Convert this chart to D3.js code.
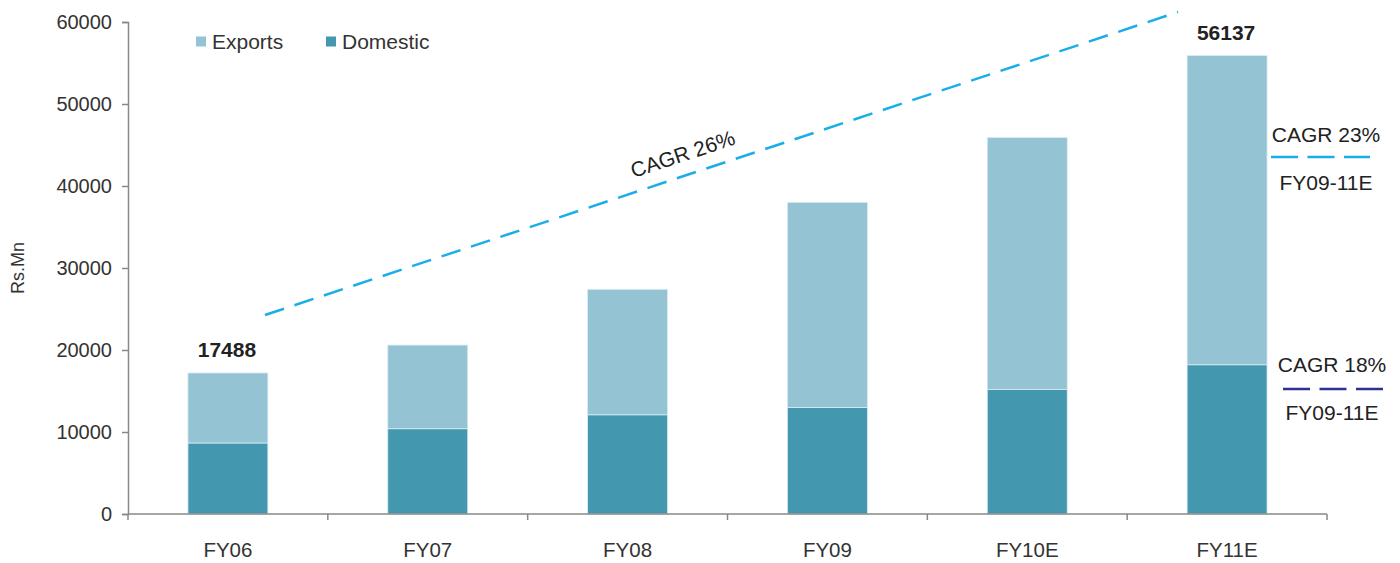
<!DOCTYPE html>
<html><head><meta charset="utf-8">
<script src="https://cdn.jsdelivr.net/npm/d3@7"></script>
<style>body{margin:0;background:#fff}text{font-family:"Liberation Sans",Arial,sans-serif}</style>
</head><body><svg id="c" width="1400" height="563"></svg>
<script>
const categories = ["FY06","FY07","FY08","FY09","FY10E","FY11E"];
const domestic = [8660, 10400, 12100, 13000, 15200, 18200];
const exportsV = [8540, 10200, 15300, 25000, 30700, 37700];
const yTicks = [0,10000,20000,30000,40000,50000,60000];
const totalLabels = [{cat:"FY06", text:"17488"}, {cat:"FY11E", text:"56137"}];

const svg = d3.select("#c");
const m = {l:128, r:1327, t:22, b:514};
const x = d3.scaleBand().domain(categories).range([m.l, m.r]).paddingInner(0.6).paddingOuter(0.3);
const xb = d3.scaleBand().domain(categories).range([m.l, m.r]);
const y = d3.scaleLinear().domain([0,60000]).range([m.b, m.t]);

const data = categories.map((c,i)=>({cat:c, Domestic:domestic[i], Exports:exportsV[i]}));
const stack = d3.stack().keys(["Domestic","Exports"])(data);
const colors = {Domestic:"#4397ae", Exports:"#94c3d4"};

svg.append("g").selectAll("g").data(stack).join("g")
  .attr("fill", d=>colors[d.key])
  .selectAll("rect").data(d=>d).join("rect")
  .attr("x", d=>x(d.data.cat)).attr("width", x.bandwidth())
  .attr("y", d=>y(d[1])).attr("height", d=>y(d[0])-y(d[1]))
  .attr("stroke","#d8ecf3").attr("stroke-width",0.8);

// y axis
const ya = svg.append("g").attr("transform",`translate(${m.l},0)`)
  .call(d3.axisLeft(y).tickValues(yTicks).tickSize(6).tickPadding(10).tickFormat(d3.format("d")));
ya.select(".domain").attr("stroke","#888").attr("stroke-width",1.5);
ya.selectAll(".tick line").attr("stroke","#888").attr("stroke-width",1.5);
ya.selectAll("text").attr("font-size",20).attr("fill","#333").style("font-family","Liberation Sans, Arial");

// x axis
const xa = svg.append("g").attr("transform",`translate(0,${m.b})`);
xa.append("line").attr("x1",m.l).attr("x2",m.r).attr("y1",0).attr("y2",0).attr("stroke","#888").attr("stroke-width",1.5);
xa.selectAll("line.t").data(categories.concat(["end"])).join("line").attr("class","t")
  .attr("x1",(d,i)=> i<categories.length ? xb(d) : m.r).attr("x2",(d,i)=> i<categories.length ? xb(d) : m.r)
  .attr("y1",0).attr("y2",6).attr("stroke","#888").attr("stroke-width",1.5);
xa.selectAll("text").data(categories).join("text")
  .attr("x", d=>x(d)+x.bandwidth()/2).attr("y",43).attr("text-anchor","middle")
  .attr("font-size",20.5).attr("fill","#333").text(d=>d);

// y label
svg.append("text").attr("transform","translate(24,268) rotate(-90)").attr("text-anchor","middle")
  .attr("font-size",18).attr("fill","#333").text("Rs.Mn");

// total labels
const totals = {}; categories.forEach((c,i)=>totals[c]=domestic[i]+exportsV[i]);
svg.selectAll("text.tot").data(totalLabels).join("text").attr("class","tot")
  .attr("x", d=>x(d.cat)+x.bandwidth()/2 - 1).attr("y", d=>y(totals[d.cat]) - 16)
  .attr("text-anchor","middle").attr("font-size",21).attr("font-weight","bold").attr("fill","#222").text(d=>d.text);

// legend
const leg = [{k:"Exports",x:196},{k:"Domestic",x:326}];
const lg = svg.append("g");
lg.selectAll("rect").data(leg).join("rect").attr("x",d=>d.x).attr("y",36.5).attr("width",10).attr("height",10).attr("fill",d=>colors[d.k]);
lg.selectAll("text").data(leg).join("text").attr("x",d=>d.x+16).attr("y",49).attr("font-size",21).attr("fill","#333").text(d=>d.k);

// CAGR trend line
svg.append("line").attr("x1",265).attr("y1",315).attr("x2",1178).attr("y2",12)
  .attr("stroke","#1aaee8").attr("stroke-width",2.5).attr("stroke-dasharray","20,11");
const ang = Math.atan2(12-315, 1178-265)*180/Math.PI;
svg.append("text").attr("transform",`translate(685,161) rotate(${ang})`).attr("text-anchor","middle")
  .attr("font-size",21).attr("fill","#222").text("CAGR 26%");

// right annotations
function note(cx, ty, lineY, by, x1, x2, col, top, bot){
  svg.append("text").attr("x",cx).attr("y",ty).attr("text-anchor","middle").attr("font-size",21).attr("fill","#222").text(top);
  svg.append("line").attr("x1",x1).attr("x2",x2).attr("y1",lineY).attr("y2",lineY)
    .attr("stroke",col).attr("stroke-width",2.5).attr("stroke-dasharray","27,9.5");
  svg.append("text").attr("x",cx).attr("y",by).attr("text-anchor","middle").attr("font-size",21).attr("fill","#222").text(bot);
}
note(1326, 142, 157, 190, 1271, 1370, "#1aaee8", "CAGR 23%", "FY09-11E");
note(1332, 372, 389, 420, 1283, 1383, "#2e3192", "CAGR 18%", "FY09-11E");
</script></body></html>
